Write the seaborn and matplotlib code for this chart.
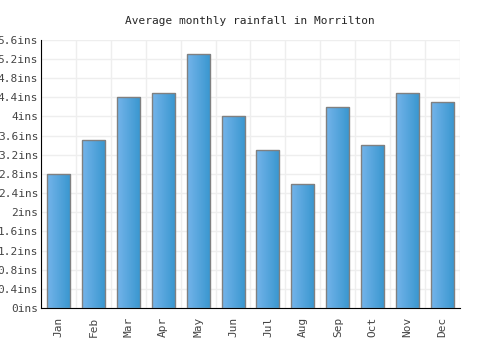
import numpy as np
import pandas as pd
import matplotlib
matplotlib.use('Agg')
import matplotlib.pyplot as plt
import seaborn as sns
from matplotlib.colors import LinearSegmentedColormap
from matplotlib.ticker import FuncFormatter, MultipleLocator

months = ['Jan', 'Feb', 'Mar', 'Apr', 'May', 'Jun',
          'Jul', 'Aug', 'Sep', 'Oct', 'Nov', 'Dec']
rainfall = [2.8, 3.5, 4.4, 4.5, 5.3, 4.0, 3.3, 2.6, 4.2, 3.4, 4.5, 4.3]

df = pd.DataFrame({'month': months, 'rain': rainfall})

sns.set_style('white')
plt.rcParams['font.family'] = ['DejaVu Sans Mono']

fig = plt.figure(figsize=(5, 3.5), dpi=100)
ax = fig.add_axes([0.082, 0.12, 0.838, 0.766])

sns.barplot(data=df, x='month', y='rain', ax=ax, width=0.66,
            color='#55a6dd', edgecolor='#808080', linewidth=1, zorder=3)

# left-to-right gradient inside each bar
cmap = LinearSegmentedColormap.from_list('bar', ['#74b4ea', '#3896cf'])
grad = np.linspace(0, 1, 64).reshape(1, -1)
for p in ax.patches:
    x0, y0 = p.get_x(), p.get_y()
    w, h = p.get_width(), p.get_height()
    im = ax.imshow(grad, cmap=cmap, aspect='auto', zorder=3.5,
                   extent=(x0, x0 + w, y0, y0 + h), interpolation='bilinear')
    im.set_clip_path(p)
    p.set_facecolor('none')
    p.set_zorder(4)

ax.set_xlim(-0.5, 11.5)
ax.set_ylim(0, 5.6)
ax.yaxis.set_major_locator(MultipleLocator(0.4))
ax.yaxis.set_major_formatter(FuncFormatter(lambda v, pos: f'{v:.1f}'.rstrip('0').rstrip('.') + 'ins'))

# vertical grid between categories
ax.set_xticks(np.arange(-0.5, 12, 1), minor=True)
ax.grid(True, which='minor', axis='x', color='#eeeeee', linewidth=1, zorder=0)
ax.grid(True, which='major', axis='y', color='#eeeeee', linewidth=1, zorder=0)
ax.tick_params(axis='x', which='minor', length=0)
ax.tick_params(axis='x', which='major', length=0, labelrotation=90, pad=6)
ax.tick_params(axis='y', length=0, pad=2)
for lab in ax.get_xticklabels() + ax.get_yticklabels():
    lab.set_fontsize(8)
    lab.set_color('#444444')

for s in ['top', 'right']:
    ax.spines[s].set_visible(False)
ax.spines['left'].set_color('black')
ax.spines['bottom'].set_color('black')
ax.set_xlabel(None)
ax.set_ylabel(None)

fig.suptitle('Average monthly rainfall in Morrilton', y=0.955, fontsize=8)

fig.savefig('out.png', dpi=100)
